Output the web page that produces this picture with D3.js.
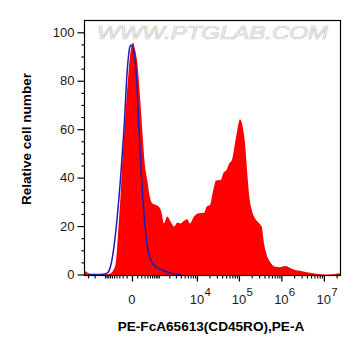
<!DOCTYPE html>
<html>
<head>
<meta charset="utf-8">
<script src="https://cdn.jsdelivr.net/npm/d3@7"></script>
<style>
html,body{margin:0;padding:0;background:#fff;}
svg{display:block;font-family:"Liberation Sans",Arial,sans-serif;}
</style>
</head>
<body>
<svg id="chart" width="361" height="356"></svg>
<script>
// ---- data (fluorescence intensity, % of max) ----
const redX = [-3800,-3386,-3007,-2510,-1842,-1087,-699,-549,-432,-336,-264,-211,-153,-102,-64,-35,-8,22,54,102,166,228,302,394,504,611,797,1012,1188,1423,1761,2180,2666,3248,3968,4804,5804,6768,8476,11220,14790,17180,20610,24700,28640,37060,42700,51390,59230,68600,80800,91540,106000,122700,139100,157600,175700,200200,239400,302300,344400,390100,451700,540500,708500,929300,1219000,1598000,2096000,2748000,3950000,5645000,9717000,16710000,24000000];
const redY = [1.5,1.2,0.6,0.1,0,0,0.3,1.5,4.6,18.4,32,46,60,73.5,83,90,94,95.8,93,87.5,73.5,59.7,46,39,31.8,29.4,28.7,28,26,21.1,23.9,21.8,19.8,21.4,21.1,22.2,22.8,21.1,23.9,25.3,25.5,28,28.7,34.9,38.8,39,41.8,43.2,45.9,47.3,54.2,59.7,64.1,61.1,54.2,41.8,32.1,26.7,23.2,21.1,19.8,12.9,8.1,5.3,3.2,3.0,3.5,2.8,1.9,1.6,0.9,0.5,0,0.1,0.5];
const blueX = [-3007,-1423,-943,-756,-621,-504,-372,-258,-166,-88,-35,-12,8,35,88,141,200,279,394,535,797,1271,2180,3968];
const blueY = [0,0,0.3,1.5,5,11.5,23.9,40.4,59.7,84.5,94.1,94.8,94,92,80.4,59.7,41.8,25.3,11.5,6,3.2,1.9,0.5,0];
const yTicks = [0,20,40,60,80,100];
const xMajorTicks = [0,1e4,1e5,1e6,1e7];
const xMajorBase = ["0","10","10","10","10"];
const xMajorExp = ["","4","5","6","7"];
const xTitle = "PE-FcA65613(CD45RO),PE-A";
const yTitle = "Relative cell number";
const watermark = "WWW.PTGLAB.COM";

const svg = d3.select("#chart");
const L = 84, R = 340, T = 20, B = 275;

const x = d3.scaleSymlog().constant(305).domain([-3800, 2.4e7]).range([L, R]);
const y = d3.scaleLinear().domain([0, 100]).range([274.5, 32.3]);

// watermark
svg.append("text")
  .attr("x", 97).attr("y", 39)
  .attr("textLength", 231).attr("lengthAdjust", "spacingAndGlyphs")
  .attr("font-size", 18).attr("font-style", "italic")
  .attr("fill", "#f4f4f4").attr("stroke", "#cfcfcf").attr("stroke-width", 0.7)
  .text(watermark);

svg.append("clipPath").attr("id", "clip")
  .append("rect").attr("x", L).attr("y", T).attr("width", R - L).attr("height", B - T);

const red = redX.map((v, i) => [v, redY[i]]);
const blue = blueX.map((v, i) => [v, blueY[i]]);

const area = d3.area().x(d => x(d[0])).y0(B).y1(d => y(d[1])).curve(d3.curveMonotoneX);
const line = d3.line().x(d => x(d[0])).y(d => y(d[1])).curve(d3.curveMonotoneX);

const g = svg.append("g").attr("clip-path", "url(#clip)");
g.append("path").datum(red).attr("d", area).attr("fill", "#ff0000");
g.append("path").datum(blue).attr("d", line).attr("fill", "none")
  .attr("stroke", "#1d1db8").attr("stroke-width", 1.5);

// frame
svg.append("rect").attr("x", L + 0.5).attr("y", T + 0.5)
  .attr("width", R - L).attr("height", B - T)
  .attr("fill", "none").attr("stroke", "#000").attr("stroke-width", 1.2);

// y axis
const yMinor = d3.range(0, 101, 5).filter(v => v % 20 !== 0);
const yAxisMajor = d3.axisLeft(y).tickValues(yTicks).tickSize(7).tickPadding(3).tickFormat(d3.format("d"));
const gy = svg.append("g").attr("transform", `translate(${L + 0.5},0)`).call(yAxisMajor);
gy.select(".domain").remove();
gy.selectAll("text").attr("font-size", 13).attr("fill", "#1a1a1a").attr("font-family", "Liberation Sans, Arial, sans-serif");
gy.selectAll("line").attr("stroke-width", 1.2);
const gy2 = svg.append("g").attr("transform", `translate(${L + 0.5},0)`)
  .call(d3.axisLeft(y).tickValues(yMinor).tickSize(3).tickFormat(""));
gy2.select(".domain").remove();
gy2.selectAll("line").attr("stroke-width", 1.2);

// x axis ticks
const xMinor = [];
[-3000,-2000,-1000,-900,-800,-700,-600,-500,-400,-300,-200,-100].forEach(v => xMinor.push(v));
for (let e = 2; e <= 6; e++) {
  for (let m = 1; m <= 9; m++) {
    const v = m * Math.pow(10, e);
    if (!xMajorTicks.includes(v)) xMinor.push(v);
  }
}
xMinor.push(2e7);
const gx2 = svg.append("g").attr("transform", `translate(0,${B + 0.5})`)
  .call(d3.axisBottom(x).tickValues(xMinor).tickSize(3).tickFormat(""));
gx2.select(".domain").remove();
gx2.selectAll("line").attr("stroke-width", 1.1);
const gx = svg.append("g").attr("transform", `translate(0,${B + 0.5})`)
  .call(d3.axisBottom(x).tickValues(xMajorTicks).tickSize(6).tickFormat(""));
gx.select(".domain").remove();
gx.selectAll("line").attr("stroke-width", 1.3);

// x labels
xMajorTicks.forEach((v, i) => {
  const px = x(v);
  svg.append("text").attr("x", px).attr("y", 304)
    .attr("text-anchor", "middle").attr("font-size", 13).attr("fill", "#1a1a1a")
    .text(xMajorBase[i]);
  if (xMajorExp[i]) {
    svg.append("text").attr("x", px + 7.5).attr("y", 296)
      .attr("text-anchor", "start").attr("font-size", 11.5).attr("fill", "#1a1a1a")
      .text(xMajorExp[i]);
  }
});

// titles
svg.append("text").attr("x", 211).attr("y", 331)
  .attr("text-anchor", "middle").attr("font-size", 13.6).attr("font-weight", "bold")
  .text(xTitle);
svg.append("text").attr("transform", "translate(31,139) rotate(-90)")
  .attr("text-anchor", "middle").attr("font-size", 13.6).attr("font-weight", "bold")
  .text(yTitle);
</script>
</body>
</html>
